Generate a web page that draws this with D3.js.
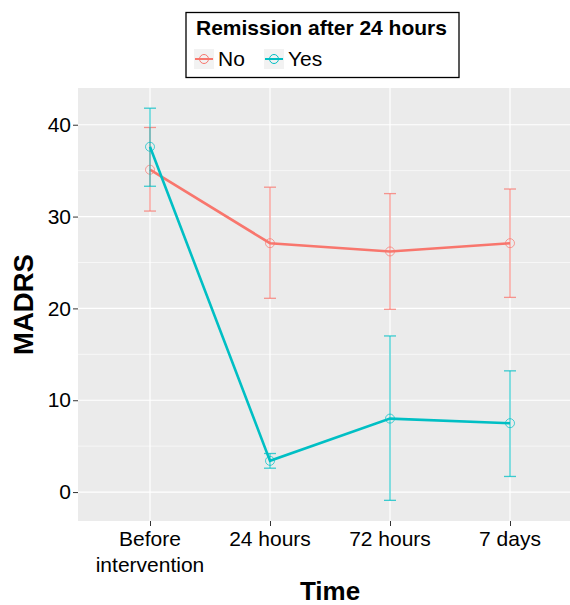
<!DOCTYPE html>
<html>
<head>
<meta charset="utf-8">
<script src="https://cdn.jsdelivr.net/npm/d3@7"></script>
<style>
body { margin: 0; background: #fff; }
svg text { font-family: "Liberation Sans", Arial, sans-serif; }
</style>
</head>
<body>
<svg id="chart" width="570" height="605"></svg>
<script>
var times = ["Before intervention", "24 hours", "72 hours", "7 days"]
var groups = ["No", "Yes"]
var noMean = [35.1, 27.1, 26.2, 27.1]
var noLow = [30.6, 21.1, 19.9, 21.2]
var noHigh = [39.7, 33.2, 32.5, 33.0]
var yesMean = [37.6, 3.4, 8.0, 7.5]
var yesLow = [33.3, 2.6, -0.9, 1.7]
var yesHigh = [41.8, 4.2, 17.0, 13.2]
var yTicks = [0, 10, 20, 30, 40]
var colors = {"No": "#F8766D", "Yes": "#00BFC4"}

var svg = d3.select("#chart")
var pLeft = 78, pRight = 582, pTop = 88, pBottom = 521

var xScale = d3.scalePoint()
    .domain(times)
    .range([pLeft, pRight])
    .padding(0.6)
var yScale = d3.scaleLinear()
    .domain([-3.15, 44.0])
    .range([pBottom, pTop])

// panel
svg.append("rect")
    .attr("x", pLeft).attr("y", pTop)
    .attr("width", pRight - pLeft).attr("height", pBottom - pTop)
    .attr("fill", "#EBEBEB")

var minor = [5, 15, 25, 35]
svg.selectAll(".minor").data(minor).enter().append("line")
    .attr("x1", pLeft).attr("x2", pRight)
    .attr("y1", function(d){return yScale(d)})
    .attr("y2", function(d){return yScale(d)})
    .attr("stroke", "#fff").style("stroke-width", "0.6px")
svg.selectAll(".hmajor").data(yTicks).enter().append("line")
    .attr("x1", pLeft).attr("x2", pRight)
    .attr("y1", function(d){return yScale(d)})
    .attr("y2", function(d){return yScale(d)})
    .attr("stroke", "#fff").style("stroke-width", "1.2px")
svg.selectAll(".vmajor").data(times).enter().append("line")
    .attr("y1", pTop).attr("y2", pBottom)
    .attr("x1", function(d){return xScale(d)})
    .attr("x2", function(d){return xScale(d)})
    .attr("stroke", "#fff").style("stroke-width", "1.2px")

// axes
var yAxis = svg.append("g")
    .attr("transform", "translate(" + pLeft + ",0)")
    .call(d3.axisLeft(yScale).tickValues(yTicks).tickSize(5).tickPadding(2))
var xAxis = svg.append("g")
    .attr("transform", "translate(0," + pBottom + ")")
    .call(d3.axisBottom(xScale).tickSize(5).tickFormat(""))
svg.selectAll(".domain").remove()
svg.selectAll(".tick line").attr("stroke", "#333").style("stroke-width", "1px")
yAxis.selectAll("text").attr("font-size", "21px").attr("fill", "#000")
    .attr("font-family", "Liberation Sans, Arial, sans-serif")

var xLabels = {"Before intervention": ["Before", "intervention"]}
times.forEach(function(t){
    var lines = xLabels[t] || [t]
    var txt = svg.append("text")
        .attr("x", xScale(t)).attr("y", 546)
        .attr("text-anchor", "middle")
        .attr("font-size", "21px").attr("fill", "#000")
    lines.forEach(function(l, i){
        txt.append("tspan").attr("x", xScale(t)).attr("dy", i == 0 ? 0 : 25.5).text(l)
    })
})

svg.append("text")
    .attr("x", (pLeft + pRight) / 2).attr("y", 600)
    .attr("text-anchor", "middle")
    .attr("font-size", "26px").attr("font-weight", "bold")
    .text("Time")
svg.append("text")
    .attr("transform", "translate(33," + ((pTop + pBottom) / 2) + ") rotate(-90)")
    .attr("text-anchor", "middle")
    .attr("font-size", "27.5px").attr("font-weight", "bold")
    .text("MADRS")

// series
var series = [
    {name: "No", mean: noMean, low: noLow, high: noHigh},
    {name: "Yes", mean: yesMean, low: yesLow, high: yesHigh}
]
var line = d3.line()
    .x(function(d){return xScale(d.t)})
    .y(function(d){return yScale(d.v)})

series.forEach(function(s){
    var pts = times.map(function(t, i){
        return {t: t, v: s.mean[i], lo: s.low[i], hi: s.high[i]}
    })
    var g = svg.append("g")
    g.append("path")
        .attr("d", line(pts))
        .attr("fill", "none")
        .attr("stroke", colors[s.name])
        .style("stroke-width", "2.6px")
    g.selectAll("circle").data(pts).enter().append("circle")
        .attr("cx", function(d){return xScale(d.t)})
        .attr("cy", function(d){return yScale(d.v)})
        .attr("r", 4.5)
        .attr("fill", "none")
        .attr("stroke", colors[s.name])
        .attr("stroke-opacity", 0.7)
        .style("stroke-width", "1px")
    var eb = g.selectAll(".eb").data(pts).enter().append("g")
        .attr("stroke", colors[s.name])
        .attr("stroke-opacity", 0.75)
        .style("stroke-width", "1.3px")
    eb.append("line")
        .attr("x1", function(d){return xScale(d.t)})
        .attr("x2", function(d){return xScale(d.t)})
        .attr("y1", function(d){return yScale(d.lo)})
        .attr("y2", function(d){return yScale(d.hi)})
    eb.append("line")
        .attr("x1", function(d){return xScale(d.t) - 6})
        .attr("x2", function(d){return xScale(d.t) + 6})
        .attr("y1", function(d){return yScale(d.lo)})
        .attr("y2", function(d){return yScale(d.lo)})
    eb.append("line")
        .attr("x1", function(d){return xScale(d.t) - 6})
        .attr("x2", function(d){return xScale(d.t) + 6})
        .attr("y1", function(d){return yScale(d.hi)})
        .attr("y2", function(d){return yScale(d.hi)})
})

// legend
var legend = svg.append("g")
legend.append("rect")
    .attr("x", 186).attr("y", 12.5)
    .attr("width", 273).attr("height", 65)
    .attr("fill", "#fff").attr("stroke", "#000").style("stroke-width", "1.3px")
legend.append("text")
    .attr("x", 196).attr("y", 35)
    .attr("font-size", "21px").attr("font-weight", "bold")
    .text("Remission after 24 hours")
var keyX = {"No": 194, "Yes": 264}
groups.forEach(function(gname){
    var kx = keyX[gname]
    legend.append("rect")
        .attr("x", kx).attr("y", 49).attr("width", 20).attr("height", 20)
        .attr("fill", "#F2F2F2")
    legend.append("line")
        .attr("x1", kx + 1).attr("x2", kx + 19)
        .attr("y1", 59).attr("y2", 59)
        .attr("stroke", colors[gname]).style("stroke-width", "2px")
    legend.append("circle")
        .attr("cx", kx + 10).attr("cy", 59).attr("r", 4.5)
        .attr("fill", "none").attr("stroke", colors[gname])
        .style("stroke-width", "1px")
    legend.append("text")
        .attr("x", kx + 24).attr("y", 66)
        .attr("font-size", "21px")
        .text(gname)
})
</script>
</body>
</html>
